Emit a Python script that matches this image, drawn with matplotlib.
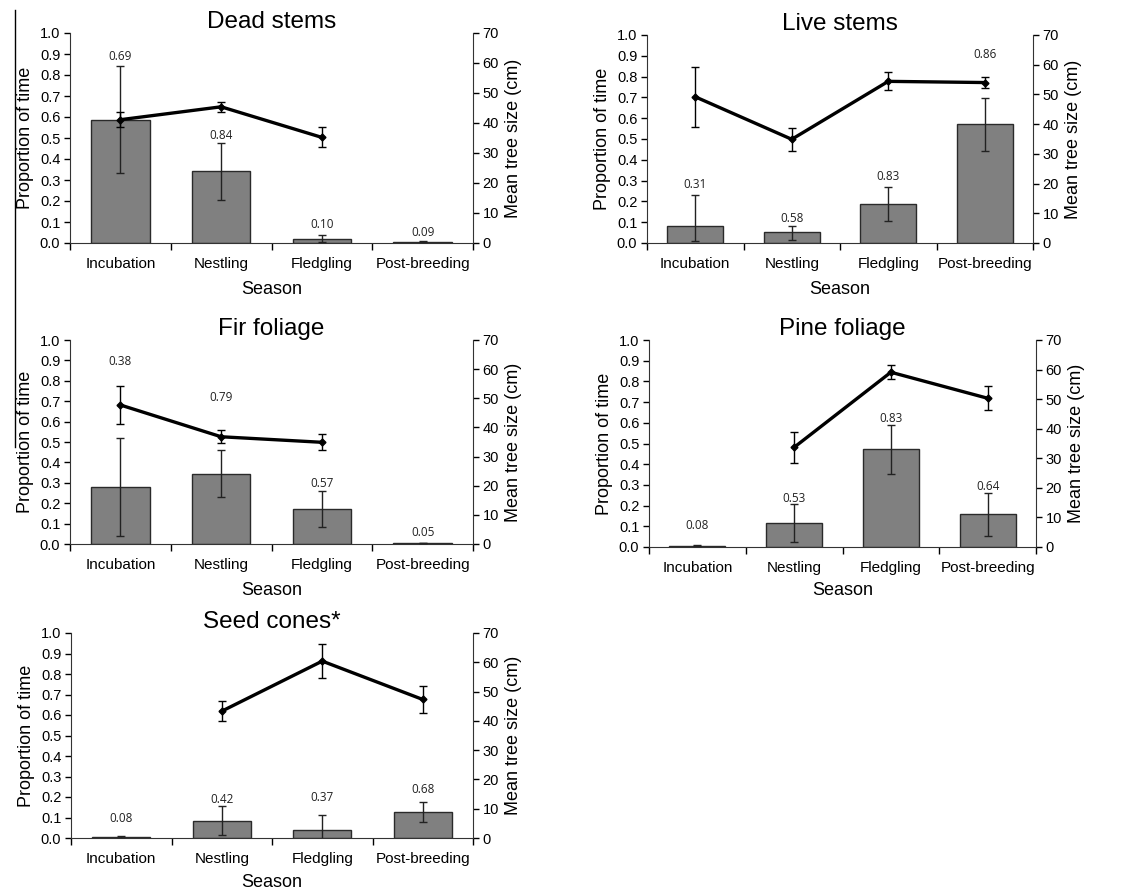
import numpy as np
import matplotlib.pyplot as plt
from matplotlib.lines import Line2D

plt.rcParams['font.family'] = ['Liberation Sans', 'DejaVu Sans']

seasons = ['Incubation', 'Nestling', 'Fledgling', 'Post-breeding']

# proportion of time (bars) and its error
dead_prop = [0.587, 0.341, 0.021, 0.006]
dead_prop_err = [0.254, 0.135, 0.017, 0.002]
live_prop = [0.082, 0.054, 0.187, 0.573]
live_prop_err = [[0.072, 0.038, 0.08, 0.133], [0.147, 0.026, 0.08, 0.126]]  # lower, upper
fir_prop = [0.279, 0.344, 0.173, 0.0065]
fir_prop_err = [0.24, 0.116, 0.088, 0.0]
pine_prop = [0.006, 0.116, 0.472, 0.159]
pine_prop_err = [0.002, 0.094, 0.118, 0.104]
cone_prop = [0.003, 0.084, 0.041, 0.126]
cone_prop_err = [0.006, 0.07, 0.07, 0.05]

# mean tree size (cm, line) and its error
dead_size = [41.1, 45.4, 35.2, np.nan]
dead_size_err = [2.5, 1.6, 3.3, np.nan]
live_size = [49.2, 34.9, 54.4, 54.0]
live_size_err = [10.0, 3.85, 3.0, 1.8]
fir_size = [47.7, 36.8, 34.9, np.nan]
fir_size_err = [6.4, 2.3, 2.7, np.nan]
pine_size = [np.nan, 33.7, 59.1, 50.3]
pine_size_err = [np.nan, 5.2, 2.4, 4.1]
cone_size = [np.nan, 43.3, 60.4, 47.3]
cone_size_err = [np.nan, 3.5, 5.8, 4.7]

# numbers printed above each season and the height they sit at
dead_labels = ['0.69', '0.84', '0.10', '0.09']
dead_label_y = [0.886, 0.511, 0.087, 0.051]
live_labels = ['0.31', '0.58', '0.83', '0.86']
live_label_y = [0.28, 0.117, 0.32, 0.907]
fir_labels = ['0.38', '0.79', '0.57', '0.05']
fir_label_y = [0.897, 0.719, 0.299, 0.057]
pine_labels = ['0.08', '0.53', '0.83', '0.64']
pine_label_y = [0.103, 0.232, 0.623, 0.291]
cone_labels = ['0.08', '0.42', '0.37', '0.68']
cone_label_y = [0.096, 0.186, 0.196, 0.235]

panels = [
    ('Dead stems', dead_prop, dead_prop_err, dead_size, dead_size_err, dead_labels, dead_label_y,
     [70, 33, 473, 243], 7),
    ('Live stems', live_prop, live_prop_err, live_size, live_size_err, live_labels, live_label_y,
     [647, 35, 1033, 243], 7),
    ('Fir foliage', fir_prop, fir_prop_err, fir_size, fir_size_err, fir_labels, fir_label_y,
     [70, 340, 473, 544], 7),
    ('Pine foliage', pine_prop, pine_prop_err, pine_size, pine_size_err, pine_labels, pine_label_y,
     [649, 340, 1036, 547], 5),
    ('Seed cones*', cone_prop, cone_prop_err, cone_size, cone_size_err, cone_labels, cone_label_y,
     [71, 633, 473, 838], 6),
]

W, H = 1144, 890
fig = plt.figure(figsize=(W / 100, H / 100), dpi=100)

x = np.arange(len(seasons))

for title, prop, prop_err, size, size_err, labels, label_y, box, xpad in panels:
    x0, y0, x1, y1 = box
    ax = fig.add_axes([x0 / W, 1 - y1 / H, (x1 - x0) / W, (y1 - y0) / H])
    ax.bar(x, prop, width=0.58, color='#808080', edgecolor='#2a2a2a', linewidth=1, zorder=2)
    ax.errorbar(x, prop, yerr=prop_err, fmt='none', ecolor='#222222', elinewidth=1,
                capsize=3, capthick=1, zorder=3)
    for xi, lab, ly in zip(x, labels, label_y):
        ax.text(xi, ly, lab, ha='center', va='center', fontsize=8.5,
                family=['Open Sans', 'DejaVu Sans'], color='#222222')

    ax.set_xlim(-0.5, 3.5)
    ax.set_ylim(0, 1.0)
    ax.set_yticks(np.arange(0, 1.01, 0.1))
    ax.set_yticklabels([f'{v:.1f}' for v in np.arange(0, 1.01, 0.1)], fontsize=10.5)
    ax.set_xticks(np.arange(-0.5, 3.6, 1.0))
    ax.set_xticklabels([])
    ax.set_xticks(x, minor=True)
    ax.set_xticklabels(seasons, minor=True, fontsize=11)
    ax.tick_params(axis='x', which='major', direction='out', length=5, width=1)
    ax.tick_params(axis='x', which='minor', length=0, pad=10)
    ax.tick_params(axis='y', direction='out', length=4, width=1, pad=3)
    ax.spines['top'].set_visible(False)
    ax.spines['right'].set_visible(False)
    for s in ['left', 'bottom']:
        ax.spines[s].set_color('#333333')
    ax.set_ylabel('Proportion of time', fontsize=13, labelpad=4)
    ax.set_xlabel('Season', fontsize=13, labelpad=xpad)
    ax.set_title(title, fontsize=17.5, pad=2)

    ax2 = ax.twinx()
    ax2.errorbar(x, size, yerr=size_err, fmt='none', ecolor='black', elinewidth=1,
                 capsize=3, capthick=1, zorder=3)
    ax2.plot(x, size, color='black', linewidth=2.4, marker='D', markersize=3.5, zorder=4)
    ax2.set_ylim(0, 70)
    ax2.set_yticks(np.arange(0, 71, 10))
    ax2.set_yticklabels([str(v) for v in range(0, 71, 10)], fontsize=10.5)
    ax2.tick_params(axis='y', direction='out', length=4, width=1, pad=3)
    ax2.spines['top'].set_visible(False)
    ax2.spines['left'].set_visible(False)
    ax2.spines['bottom'].set_visible(False)
    ax2.spines['right'].set_color('#333333')
    ax2.set_ylabel('Mean tree size (cm)', fontsize=13, labelpad=4)

# thin vertical rule at the left edge of the page
fig.add_artist(Line2D([15 / W, 15 / W], [1 - 10 / H, 1 - 447 / H], color='black', linewidth=1))

fig.savefig('out.png', dpi=100)
